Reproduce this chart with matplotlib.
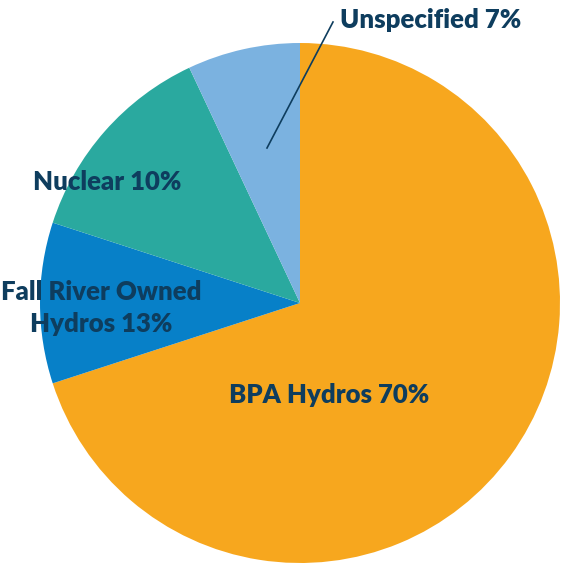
import matplotlib
matplotlib.use("Agg")
import matplotlib.pyplot as plt

categories = ["BPA Hydros", "Fall River Owned Hydros", "Nuclear", "Unspecified"]
sizes = [70, 10, 13, 7]
labels = ["BPA Hydros 70%", "Fall River Owned\nHydros 13%", "Nuclear 10%", "Unspecified 7%"]
colors = ["#F7A71E", "#0780C8", "#2AA99F", "#7BB2E0"]
text_color = "#0E3D5E"

W, H = 561, 563
fig = plt.figure(figsize=(W / 100, H / 100), dpi=100)
ax = fig.add_axes([0, 0, 1, 1])

cx, cy, r = 300, H - 303, 260
ax.pie(sizes, colors=colors, startangle=90, counterclock=False,
       center=(cx, cy), radius=r, frame=True,
       wedgeprops=dict(linewidth=0))
ax.set_xlim(0, W)
ax.set_ylim(0, H)
ax.set_aspect("equal")
ax.axis("off")

font = dict(family="Lato", weight="heavy", size=18.5, color=text_color)

# leader line for Unspecified
ax.plot([267, 333], [H - 148, H - 22], color=text_color, lw=1.2)

ax.text(340, H - 28, labels[3], ha="left", va="baseline", **font)
ax.text(107, H - 190, labels[2], ha="center", va="baseline", **font)
ax.text(101, H - 308, labels[1], ha="center", va="center", linespacing=1.35, **font)
ax.text(329, H - 403, labels[0], ha="center", va="baseline", **font)

fig.savefig("out.png", dpi=100)
